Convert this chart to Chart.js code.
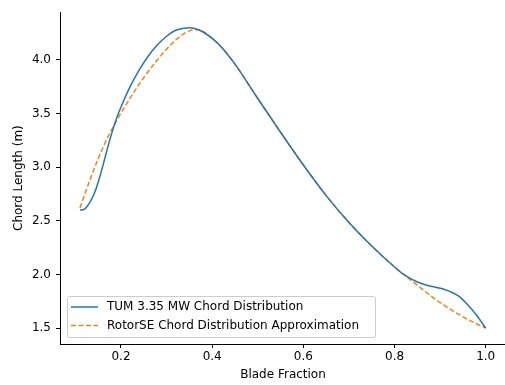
<!DOCTYPE html>
<html lang="en">
<head>
  <meta charset="UTF-8" />
  <title>Chord Distribution</title>
  <script src="https://cdn.jsdelivr.net/npm/chart.js"></script>
  <style>
    html, body { margin: 0; padding: 0; background: #fff; overflow: hidden; }
    #wrap { width: 508px; height: 385px; }
  </style>
</head>
<body>
  <div id="wrap"><canvas id="chordChart" width="508" height="385"></canvas></div>

  <script>
    // TUM 3.35 MW chord distribution
    const tumX = [0.11, 0.12, 0.13, 0.14, 0.15, 0.16, 0.17, 0.18, 0.19, 0.20, 0.22, 0.24, 0.26, 0.28, 0.30, 0.32, 0.35, 0.37, 0.40, 0.42, 0.45, 0.50, 0.55, 0.60, 0.65, 0.70, 0.75, 0.80, 0.82, 0.85, 0.88, 0.91, 0.94, 0.96, 0.98, 1.00];
    const tumY = [2.60, 2.61, 2.66, 2.74, 2.86, 3.01, 3.17, 3.32, 3.45, 3.56, 3.75, 3.906, 4.036, 4.14, 4.22, 4.276, 4.30, 4.28, 4.20, 4.12, 3.96, 3.64, 3.325, 3.02, 2.735, 2.485, 2.265, 2.07, 2.00, 1.93, 1.89, 1.86, 1.80, 1.72, 1.62, 1.50];

    // RotorSE approximation
    const rseX = [0.11, 0.13, 0.15, 0.17, 0.19, 0.21, 0.23, 0.25, 0.28, 0.30, 0.33, 0.35, 0.37, 0.40, 0.42, 0.45, 0.50, 0.55, 0.60, 0.65, 0.70, 0.75, 0.80, 0.82, 0.85, 0.88, 0.91, 0.94, 0.97, 1.00];
    const rseY = [2.62, 2.86, 3.08, 3.27, 3.43, 3.575, 3.71, 3.835, 4.00, 4.10, 4.22, 4.27, 4.28, 4.20, 4.12, 3.96, 3.64, 3.325, 3.02, 2.735, 2.485, 2.265, 2.07, 2.00, 1.90, 1.80, 1.71, 1.63, 1.56, 1.50];

    const xTicks = [0.2, 0.4, 0.6, 0.8, 1.0];
    const yTicks = [1.5, 2.0, 2.5, 3.0, 3.5, 4.0];

    const FONT = "'DejaVu Sans', sans-serif";

    function pts(xs, ys) {
      return xs.map((x, i) => ({ x: x, y: ys[i] }));
    }

    // legend drawn inside the plot, lower left, like matplotlib
    const innerLegend = {
      id: 'innerLegend',
      afterDraw(chart) {
        const ctx = chart.ctx;
        const a = chart.chartArea;
        const bx = a.left + 7, by = a.bottom - 48, bw = 308, bh = 41;
        ctx.save();
        ctx.fillStyle = 'rgba(255,255,255,0.8)';
        ctx.strokeStyle = '#cccccc';
        ctx.lineWidth = 1;
        ctx.beginPath();
        ctx.roundRect(bx + 0.5, by + 0.5, bw, bh, 2);
        ctx.fill();
        ctx.stroke();
        ctx.font = '12px ' + FONT;
        ctx.textBaseline = 'middle';
        chart.data.datasets.forEach((ds, i) => {
          const yy = by + 11 + i * 18.5;
          ctx.strokeStyle = ds.borderColor;
          ctx.lineWidth = 1.5;
          ctx.setLineDash(ds.borderDash || []);
          ctx.beginPath();
          ctx.moveTo(bx + 4, yy);
          ctx.lineTo(bx + 31, yy);
          ctx.stroke();
          ctx.setLineDash([]);
          ctx.fillStyle = '#000';
          ctx.fillText(ds.label, bx + 40, yy);
        });
        ctx.restore();
      }
    };

    const ctx = document.getElementById('chordChart').getContext('2d');
    new Chart(ctx, {
      type: 'scatter',
      data: {
        datasets: [{
          label: 'TUM 3.35 MW Chord Distribution',
          data: pts(tumX, tumY),
          showLine: true,
          borderColor: '#1f77b4',
          borderWidth: 1.5,
          pointRadius: 0,
          cubicInterpolationMode: 'monotone'
        }, {
          label: 'RotorSE Chord Distribution Approximation',
          data: pts(rseX, rseY),
          showLine: true,
          borderColor: '#ff7f0e',
          borderWidth: 1.5,
          borderDash: [5, 2.5],
          pointRadius: 0,
          cubicInterpolationMode: 'monotone'
        }]
      },
      options: {
        responsive: false,
        devicePixelRatio: 1,
        animation: false,
        layout: { padding: { top: 10, right: 2, left: 0, bottom: 0 } },
        plugins: { legend: { display: false }, tooltip: { enabled: false } },
        scales: {
          x: {
            type: 'linear',
            min: 0.0662,
            max: 1.0445,
            afterBuildTicks: s => { s.ticks = xTicks.map(v => ({ value: v })); },
            afterFit: s => { s.height = 41; },
            ticks: {
              color: '#000',
              font: { family: FONT, size: 12 },
              padding: 2,
              maxRotation: 0,
              callback: v => v.toFixed(1)
            },
            grid: { drawOnChartArea: false, drawTicks: true, tickLength: 4, tickColor: '#000', tickWidth: 1 },
            border: { display: true, color: '#000', width: 1 },
            title: {
              display: true,
              text: 'Blade Fraction',
              color: '#000',
              font: { family: FONT, size: 12 },
              padding: { top: 3, bottom: 3 }
            }
          },
          y: {
            type: 'linear',
            min: 1.352,
            max: 4.444,
            afterBuildTicks: s => { s.ticks = yTicks.map(v => ({ value: v })); },
            afterFit: s => { s.width = 60; },
            ticks: {
              color: '#000',
              font: { family: FONT, size: 12 },
              padding: 5,
              callback: v => v.toFixed(1)
            },
            grid: { drawOnChartArea: false, drawTicks: true, tickLength: 4, tickColor: '#000', tickWidth: 1 },
            border: { display: true, color: '#000', width: 1 },
            title: {
              display: true,
              text: 'Chord Length (m)',
              color: '#000',
              font: { family: FONT, size: 12 },
              padding: { top: 11.5, bottom: 11.5 }
            }
          }
        }
      },
      plugins: [innerLegend]
    });
  </script>
</body>
</html>
